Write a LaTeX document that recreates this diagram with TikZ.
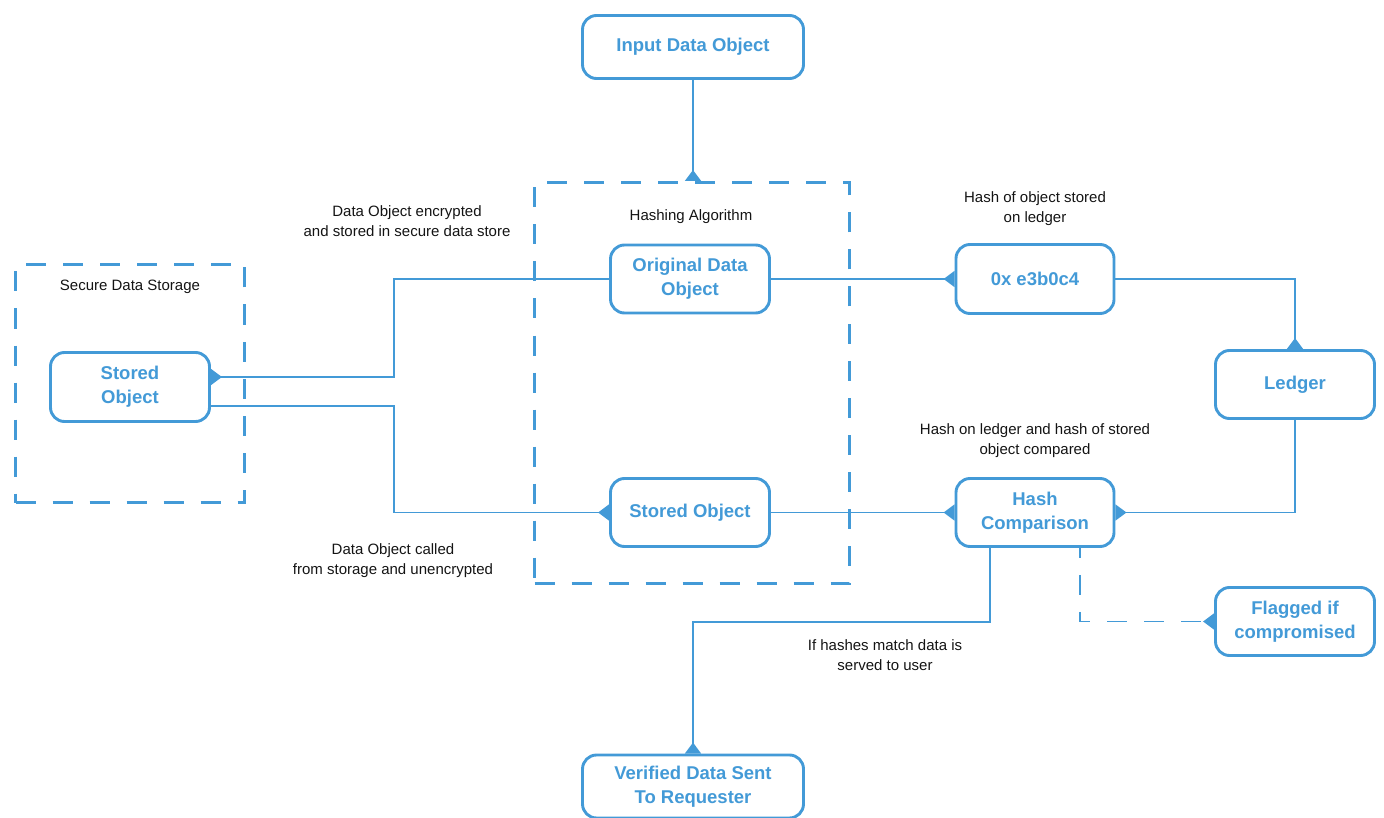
\documentclass[tikz,border=0pt]{standalone}
\usepackage{fontspec}
\setmainfont{Liberation Sans}
\usetikzlibrary{arrows.meta}
\definecolor{bl}{RGB}{67,154,215}
\definecolor{tx}{RGB}{20,20,20}
\begin{document}
\begin{tikzpicture}[x=1pt,y=-1pt,
  box/.style={draw=bl, line width=2.9pt, rounded corners=14pt, fill=white, text=bl,
    font=\fontsize{18.5}{24}\selectfont\bfseries, align=center, inner sep=0pt},
  dbox/.style={draw=bl, line width=3pt, dash pattern=on 20pt off 17pt, inner sep=0pt},
  lbl/.style={text=tx, font=\fontsize{15}{20}\selectfont, align=center, inner sep=0pt},
  conn/.style={draw=bl, line width=1.6pt, -{Triangle[reversed,width=16pt,length=11pt]}},
  dconn/.style={conn, dash pattern=on 20pt off 17pt, dash phase=10pt}
]
\useasboundingbox (0,0) rectangle (1384,818);

% dashed containers
\node[dbox, minimum width=315, minimum height=401] (hashbox) at (692,383) {};
\node[dbox, minimum width=229, minimum height=238] (secure) at (130,383.5) {};
\node[lbl] (hashlbl) at (691,217) {Hashing Algorithm};
\node[lbl] (securelbl) at (130,287) {Secure Data Storage};

% boxes
\node[box, minimum width=221, minimum height=63] (input) at (693,47) {Input Data Object};
\node[box, minimum width=159, minimum height=68] (orig) at (690,279) {Original Data\\Object};
\node[box, minimum width=159, minimum height=68] (storedM) at (690,512.5) {Stored Object};
\node[box, minimum width=159, minimum height=69] (storedL) at (130,387) {Stored\\Object};
\node[box, minimum width=158, minimum height=69] (hashv) at (1035,279) {0x e3b0c4};
\node[box, minimum width=159, minimum height=68] (ledger) at (1295,384.5) {Ledger};
\node[box, minimum width=158, minimum height=68] (cmp) at (1035,512.5) {Hash\\Comparison};
\node[box, minimum width=159, minimum height=68] (flag) at (1295,621.5) {Flagged if\\compromised};
\node[box, minimum width=221, minimum height=63] (verified) at (693,786.5) {Verified Data Sent\\To Requester};

% labels
\node[lbl] (enc) at (407,221) {Data Object encrypted\\and stored in secure data store};
\node[lbl] (hashof) at (1035,209) {Hash of object stored\\on ledger};
\node[lbl] (hashon) at (1035,441) {Hash on ledger and hash of stored\\object compared};
\node[lbl] (called) at (393,561) {Data Object called\\from storage and unencrypted};
\node[lbl] (ifhash) at (885,655) {If hashes match data is\\served to user};

% connectors
\coordinate (a1) at (394,377);
\coordinate (a2) at (394,406);
\coordinate (a3) at (990,622);
\coordinate (a4) at (1080,622);

\draw[conn] (input.south) -- (input.south |- hashbox.north);
\draw[conn] (orig.west) -| (a1) -- (storedL.east |- a1);
\draw[conn] (storedL.east |- a2) -- (a2) |- (storedM.west);
\draw[conn] (orig.east) -- (hashv.west);
\draw[conn] (hashv.east) -| (ledger.north);
\draw[conn] (ledger.south) |- (cmp.east);
\draw[conn] (storedM.east) -- (cmp.west);
\draw[conn] (cmp.south -| a3) -- (a3) -| (verified.north);
\draw[dconn] (cmp.south -| a4) |- (flag.west);
\end{tikzpicture}
\end{document}
